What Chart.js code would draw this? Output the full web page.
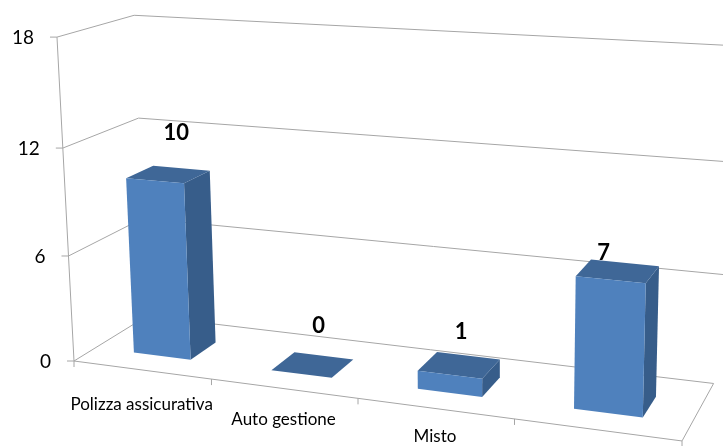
<!DOCTYPE html>
<html>
<head>
<meta charset="utf-8">
<title>Gestione</title>
<script src="https://cdn.jsdelivr.net/npm/chart.js@4.4.1/dist/chart.umd.min.js"></script>
<style>
  html, body { margin: 0; padding: 0; background: #fff; }
  #wrap { position: relative; width: 723px; height: 446px; }
</style>
</head>
<body>
<div id="wrap"><canvas id="gestioneChart"></canvas></div>
<script>
var categories = ['Polizza assicurativa', 'Auto gestione', 'Misto', ''];
var counts = [10, 0, 1, 7];
var yTicks = [0, 6, 12, 18];

var gridColor = '#a6a6a6';
var faceFront = '#4f81bd';
var faceSide = '#375d8a';
var faceTop = '#3f6797';
var textColor = '#000';
var fontFamily = 'Lato, "Open Sans", sans-serif';

// bars sit in the middle of the depth of the box
var depthFront = 0.28, depthBack = 0.65;

// perspective camera for the box: X across the categories, Y up the value axis,
// Z into the depth, each running 0..1
function project(X, Y, Z) {
  var w = 1 - 0.1235 * X - 0.0405 * Y + 0.08 * Z;
  return {
    x: (74 + 523.8 * X - 19.31 * Y + 84.76 * Z) / w,
    y: (361 + 25.5 * X - 325.4 * Y - 19.7 * Z) / w
  };
}

// value labels float above the bars on a flat (non perspective) placement
function labelSpot(X, Y) {
  return { x: 105 + 570 * X, y: 291.5 + 92 * X - 306 * Y };
}

function poly(ctx, pts, fill) {
  ctx.beginPath();
  ctx.moveTo(pts[0].x, pts[0].y);
  for (var i = 1; i < pts.length; i++) ctx.lineTo(pts[i].x, pts[i].y);
  ctx.closePath();
  ctx.fillStyle = fill;
  ctx.fill();
}

function line(ctx, a, b) {
  ctx.beginPath();
  ctx.moveTo(a.x, a.y);
  ctx.lineTo(b.x, b.y);
  ctx.stroke();
}

var box3d = {
  id: 'box3d',
  beforeDatasetsDraw: function(chart) {
    var ctx = chart.ctx, area = chart.chartArea;
    var xs = chart.scales.x, ys = chart.scales.y;
    var w = area.right - area.left, h = area.bottom - area.top;
    function nx(px) { return (px - area.left) / w; }
    function ny(px) { return (area.bottom - px) / h; }
    var n = categories.length;
    var half = 0.5 / n;

    ctx.save();
    ctx.strokeStyle = gridColor;
    ctx.lineWidth = 1;

    // side wall, back wall and floor
    yTicks.forEach(function(t) {
      var Y = ny(ys.getPixelForValue(t));
      if (t === 0) {
        var c = [project(0, 0, 0), project(1, 0, 0), project(1, 0, 1), project(0, 0, 1)];
        ctx.beginPath();
        ctx.moveTo(c[0].x, c[0].y);
        for (var k = 1; k < 4; k++) ctx.lineTo(c[k].x, c[k].y);
        ctx.closePath();
        ctx.stroke();
      } else {
        line(ctx, project(0, Y, 0), project(0, Y, 1));
        line(ctx, project(0, Y, 1), project(1.02, Y, 1));
      }
      // tick on the value axis
      var p = project(0, Y, 0);
      line(ctx, { x: p.x - 7, y: p.y }, p);
    });

    // value axis
    line(ctx, project(0, 0, 0), project(0, ny(ys.getPixelForValue(yTicks[yTicks.length - 1])), 0));

    // category ticks along the front edge
    for (var i = 0; i <= n; i++) {
      var Xb = i === n ? nx(xs.getPixelForValue(n - 1)) + half : nx(xs.getPixelForValue(i)) - half;
      var q = project(Xb, 0, 0);
      line(ctx, q, { x: q.x, y: q.y + 6 });
    }

    // value axis labels
    ctx.fillStyle = textColor;
    ctx.font = '19px ' + fontFamily;
    ctx.textAlign = 'right';
    ctx.textBaseline = 'middle';
    yTicks.forEach(function(t) {
      var p = project(0, ny(ys.getPixelForValue(t)), 0);
      ctx.fillText(String(t), p.x - 23, p.y + 1);
    });

    // category labels under the front edge
    ctx.font = '17px ' + fontFamily;
    ctx.textAlign = 'center';
    categories.forEach(function(c, i) {
      var X = nx(xs.getPixelForValue(i));
      var p = project(X, 0, 0);
      ctx.fillText(c, p.x, p.y + 36.5 - 14 * X);
    });

    // bars as blocks
    var meta = chart.getDatasetMeta(0);
    meta.data.forEach(function(bar) {
      var X0 = nx(bar.x - bar.width / 2), X1 = nx(bar.x + bar.width / 2);
      var Yt = ny(bar.y), Yb = ny(bar.base);
      var Z0 = depthFront, Z1 = depthBack;
      poly(ctx, [project(X1, Yb, Z0), project(X1, Yb, Z1), project(X1, Yt, Z1), project(X1, Yt, Z0)], faceSide);
      poly(ctx, [project(X0, Yt, Z0), project(X1, Yt, Z0), project(X1, Yt, Z1), project(X0, Yt, Z1)], faceTop);
      if (Yt - Yb > 0.001) {
        poly(ctx, [project(X0, Yb, Z0), project(X1, Yb, Z0), project(X1, Yt, Z0), project(X0, Yt, Z0)], faceFront);
      }
    });

    // value labels
    ctx.fillStyle = textColor;
    ctx.font = 'bold 22px ' + fontFamily;
    ctx.textAlign = 'center';
    ctx.textBaseline = 'middle';
    meta.data.forEach(function(bar, i) {
      var s = labelSpot(nx(bar.x), ny(bar.y));
      ctx.fillText(String(counts[i]), s.x, s.y);
    });

    ctx.restore();
    return false;
  }
};

new Chart(document.getElementById('gestioneChart').getContext('2d'), {
  type: 'bar',
  data: {
    labels: categories,
    datasets: [{
      label: 'Gestione',
      data: counts,
      backgroundColor: faceFront,
      categoryPercentage: 1,
      barPercentage: 0.42
    }]
  },
  options: {
    responsive: true,
    maintainAspectRatio: false,
    animation: false,
    layout: { padding: 0 },
    plugins: { legend: { display: false }, tooltip: { enabled: false } },
    scales: {
      x: { display: false },
      y: { display: false, min: 0, max: 18, ticks: { stepSize: 6 } }
    }
  },
  plugins: [box3d]
});
</script>
</body>
</html>
